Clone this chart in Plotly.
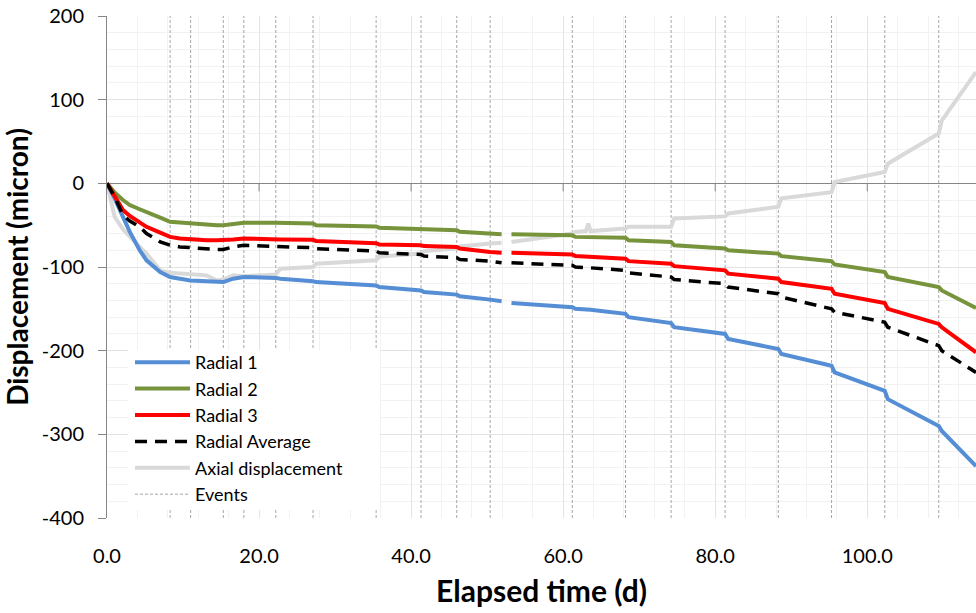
import plotly.graph_objects as go

# ---------------- data ----------------
t = [0, 0.5, 1, 2.1, 3, 4.3, 5.2, 7, 8.3, 9.6, 11.0, 13.1, 14.4, 15.3, 16.6, 18.0,
     22.2, 22.8, 27.1, 27.5, 35.4, 35.8, 41.3, 41.7, 46.0, 46.4, 50.4, 51.9, 52.5,
     53.2, 61.2, 61.6, 63.0, 63.3, 63.6, 68.2, 68.6, 74.2, 74.6, 81.3, 81.7, 88.3,
     88.7, 95.3, 95.7, 102.3, 102.7, 109.4, 109.8, 114.3]

radial1 = [0, -8, -18, -40, -58, -80, -92, -106, -112, -114, -116, -117, -118, -118, -114, -112,
           -113, -114, -117, -118, -122, -124, -128, -130, -133, -135, -139, -141, None,
           -143, -148, -150, -151, -151, -151, -156, -160, -167, -172, -180, -186, -198,
           -204, -218, -226, -248, -258, -290, -296, -338]

radial2 = [0, -6, -11, -20, -26, -31, -34, -41, -46, -47, -48, -49, -50, -50, -48, -47,
           -47, -47, -48, -50, -51.5, -53, -54, -55, -56, -58, -60, -61, None,
           -61, -62, -64, -64, -64, -64, -65, -68, -70, -74, -78, -80, -84,
           -87, -93, -97, -106, -112, -124, -128, -149]

radial3 = [0, -8, -15, -32, -39, -46, -52, -59, -64, -66, -67, -68, -68, -68, -67, -66,
           -66, -67, -67.5, -69, -71.5, -73, -74, -75, -76, -78, -82, -83, None,
           -83, -85, -87, -87.5, -87.5, -88, -90, -93, -96, -99, -104, -108, -114,
           -118, -126, -132, -143, -150, -168, -172, -202]

radial_avg = [0, -8, -16, -38, -45, -52, -60, -70, -74, -76, -77, -78, -79, -79, -76, -74,
              -75, -76, -77, -78, -81, -83, -85, -87, -89, -91, -93, -95, None,
              -95, -98, -100, -100, -100.5, -101, -104, -107, -112, -115, -120, -124, -132,
              -136, -150, -154, -166, -172, -194, -200, -226]

axial = [0, -20, -40, -55, -64, -76, -84, -104, -107, -108, -109, -110, -116, -115, -110, -111,
         -109, -102, -100, -96, -92, -87.5, -84, -81, -78, -75.5, -72, -71, None,
         -70, -60, -58, -57, -48, -57, -54, -52, -52, -42, -39.5, -36, -28,
         -18, -10.5, 1.5, 13.5, 23.5, 59.5, 75, 133]

events = [8.3, 11.0, 15.3, 18.0, 22.2, 27.1, 35.4, 41.3, 46.0, 50.4, 61.2, 68.2,
          74.2, 81.3, 88.3, 95.3, 102.3, 109.4]

x_ticks = [0, 20, 40, 60, 80, 100]
x_tick_labels = ["0.0", "20.0", "40.0", "60.0", "80.0", "100.0"]
y_ticks = [-400, -300, -200, -100, 0, 100, 200]
y_tick_labels = ["-400", "-300", "-200", "-100", "0", "100", "200"]
x_range = [0, 114.3]
y_range = [-400, 200]

# ---------------- figure ----------------
FONT = "Lato"
fig = go.Figure()

ev_x, ev_y = [], []
for e in events:
    ev_x += [e, e, None]
    ev_y += [y_range[0], y_range[1], None]

fig.add_trace(go.Scatter(x=ev_x, y=ev_y, mode="lines", name="Events",
                         line=dict(color="#a6a6a6", width=1, dash="3px,2px"),
                         legendrank=6))
fig.add_trace(go.Scatter(x=t, y=axial, mode="lines", name="Axial displacement",
                         line=dict(color="#d9d9d9", width=4), legendrank=5))
fig.add_trace(go.Scatter(x=t, y=radial1, mode="lines", name="Radial 1",
                         line=dict(color="#558ed5", width=4), legendrank=1))
fig.add_trace(go.Scatter(x=t, y=radial2, mode="lines", name="Radial 2",
                         line=dict(color="#77933c", width=4), legendrank=2))
fig.add_trace(go.Scatter(x=t, y=radial3, mode="lines", name="Radial 3",
                         line=dict(color="#ff0000", width=4), legendrank=3))
fig.add_trace(go.Scatter(x=t, y=radial_avg, mode="lines", name="Radial Average",
                         line=dict(color="#000000", width=3.5, dash="12px,8px"),
                         legendrank=4))

L, R, T, B = 107, 0, 16, 95
W, H = 976, 613
pw, ph = W - L - R, H - T - B

def px_to_paper_x(px):
    return (px - L) / pw

def px_to_paper_y(py):
    return (H - B - py) / ph

shapes = []
# white legend box
shapes.append(dict(type="rect", xref="paper", yref="paper",
                   x0=px_to_paper_x(128), x1=px_to_paper_x(380),
                   y0=px_to_paper_y(510), y1=px_to_paper_y(350),
                   fillcolor="white", line=dict(width=0), layer="above"))
# tick marks on the zero axis line
for xt in x_ticks[1:]:
    shapes.append(dict(type="line", xref="x", yref="y", x0=xt, x1=xt,
                       ysizemode="pixel", yanchor=0, y0=0, y1=-8,
                       line=dict(color="#868686", width=1), layer="above"))

fig.update_layout(
    width=W, height=H,
    margin=dict(l=L, r=R, t=T, b=B),
    paper_bgcolor="white", plot_bgcolor="white",
    font=dict(family=FONT, size=20, color="#000000"),
    showlegend=True,
    legend=dict(x=px_to_paper_x(130), y=px_to_paper_y(344), xanchor="left", yanchor="top",
                bgcolor="rgba(0,0,0,0)", font=dict(family=FONT, size=18),
                itemwidth=55, tracegroupgap=0),
    shapes=shapes,
)

fig.update_xaxes(
    range=x_range, tickvals=x_ticks, ticktext=x_tick_labels,
    showgrid=True, gridcolor="#e3e3e3", gridwidth=1,
    minor=dict(dtick=4, showgrid=True, gridcolor="#f2f2f2", gridwidth=1),
    zeroline=False, showline=False, ticks="", ticklabelstandoff=24,
    tickfont=dict(family=FONT, size=20),
    title=dict(text="<b>Elapsed time (d)</b>", font=dict(family=FONT, size=30), standoff=14),
)
fig.update_yaxes(
    range=y_range, tickvals=y_ticks, ticktext=y_tick_labels,
    showgrid=True, gridcolor="#e3e3e3", gridwidth=1,
    minor=dict(dtick=20, showgrid=True, gridcolor="#f2f2f2", gridwidth=1),
    zeroline=True, zerolinecolor="#868686", zerolinewidth=1,
    showline=True, linecolor="#868686", linewidth=1,
    ticks="outside", ticklen=8, tickcolor="#868686", ticklabelstandoff=10,
    tickfont=dict(family=FONT, size=20),
    title=dict(text="<b>Displacement (micron)</b>", font=dict(family=FONT, size=28), standoff=14),
)

fig.write_html("out.html")
